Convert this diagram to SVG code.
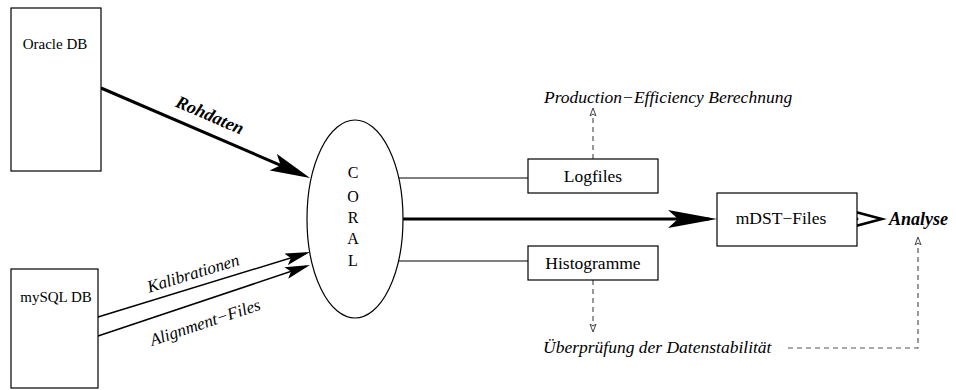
<svg xmlns="http://www.w3.org/2000/svg" width="956" height="390" viewBox="0 0 956 390">
<style>
.box{fill:#fff;stroke:#000;stroke-width:1.2}
.t{font-family:'Liberation Serif','Times New Roman',Times,'Nimbus Roman','DejaVu Serif',serif;fill:#000}
.lbl{font-size:17.5px}
.db{font-size:15px}
.it{font-style:italic}
.bi{font-style:italic;font-weight:bold}
.thick{stroke:#000;stroke-width:3;fill:none}
.thin{stroke:#000;stroke-width:1.5;fill:none}
.line{stroke:#000;stroke-width:1.2;fill:none}
.dash{stroke:#555;stroke-width:1.2;fill:none;stroke-dasharray:5 4}
</style>
<defs>
<marker id="big" markerUnits="userSpaceOnUse" viewBox="0 0 40 18" markerWidth="40" markerHeight="18" refX="32" refY="9" orient="auto">
<path d="M0,0 L40,9 L0,18 L8,9 z" fill="#000"/>
</marker>
<marker id="big2" markerUnits="userSpaceOnUse" viewBox="0 0 49 18" markerWidth="49" markerHeight="18" refX="41" refY="9" orient="auto">
<path d="M0,0 L49,9 L0,18 L10,9 z" fill="#000"/>
</marker>
<marker id="small" markerUnits="userSpaceOnUse" viewBox="0 0 25 12" markerWidth="25" markerHeight="12" refX="21" refY="6" orient="auto">
<path d="M0,0 L25,6 L0,12 L5,6 z" fill="#000"/>
</marker>
<marker id="open" markerUnits="userSpaceOnUse" viewBox="0 0 9 8" markerWidth="9" markerHeight="8" refX="8" refY="4" orient="auto">
<path d="M0,1 L8,4 L0,7 L2,4 z" fill="#fff" stroke="#444" stroke-width="1"/>
</marker>
</defs>
<g id="connectors">
<line class="thick" x1="101" y1="88" x2="302.7" y2="174.8" marker-end="url(#big)"/>
<line class="thin" x1="98" y1="317" x2="306.2" y2="253.2" marker-end="url(#small)"/>
<line class="thin" x1="98" y1="336" x2="306.2" y2="266.3" marker-end="url(#small)"/>
<line class="line" x1="399" y1="178" x2="528" y2="178"/>
<line class="line" x1="399" y1="261" x2="528" y2="261"/>
<line class="thick" x1="403" y1="219" x2="709" y2="219" marker-end="url(#big2)"/>
<line class="dash" x1="593" y1="159" x2="593" y2="108" marker-end="url(#open)"/>
<line class="dash" x1="593" y1="280" x2="593" y2="332" marker-end="url(#open)"/>
<polyline class="dash" points="788,348 918,348 918,237" marker-end="url(#open)"/>
<polygon points="848,210 882,219 848,228 857,219" fill="#fff" stroke="#000" stroke-width="2.5" stroke-linejoin="miter"/>
<text class="t bi" font-size="18" transform="translate(210,115) rotate(23.3)" x="0" y="6" text-anchor="middle">Rohdaten</text>
<text class="t it" font-size="17" transform="translate(193,273) rotate(-17)" x="0" y="6" text-anchor="middle">Kalibrationen</text>
<text class="t it" font-size="17" transform="translate(205,322) rotate(-18.5)" x="0" y="6" text-anchor="middle">Alignment−Files</text>
</g>
<g id="oracle">
<rect class="box" x="11" y="8" width="90" height="163"/>
<text class="t db" x="55" y="49" text-anchor="middle">Oracle DB</text>
</g>
<g id="mysql">
<rect class="box" x="11" y="269" width="87" height="119"/>
<text class="t db" x="56" y="302" text-anchor="middle">mySQL DB</text>
</g>
<g id="coral">
<ellipse cx="355" cy="219" rx="48" ry="99" fill="#fff" stroke="#000" stroke-width="1.2"/>
<text class="t" font-size="16" text-anchor="middle"><tspan x="353" y="178">C</tspan><tspan x="353" y="202">O</tspan><tspan x="353" y="223">R</tspan><tspan x="353" y="244">A</tspan><tspan x="353" y="266">L</tspan></text>
</g>
<g id="logfiles">
<rect class="box" x="528" y="159" width="130" height="34"/>
<text class="t lbl" x="593" y="182" text-anchor="middle">Logfiles</text>
</g>
<g id="histogramme">
<rect class="box" x="528" y="246" width="130" height="34"/>
<text class="t lbl" x="593" y="269" text-anchor="middle">Histogramme</text>
</g>
<g id="mdst">
<rect class="box" x="717" y="193" width="140" height="53"/>
<text class="t lbl" x="781" y="224" text-anchor="middle">mDST−Files</text>
</g>
<g id="production">
<text class="t lbl it" x="544" y="103">Production−Efficiency Berechnung</text>
</g>
<g id="ueberpruefung">
<text class="t lbl it" x="543" y="353">Überprüfung der Datenstabilität</text>
</g>
<g id="analyse">
<text class="t bi" font-size="18" x="889" y="225">Analyse</text>
</g>
</svg>
